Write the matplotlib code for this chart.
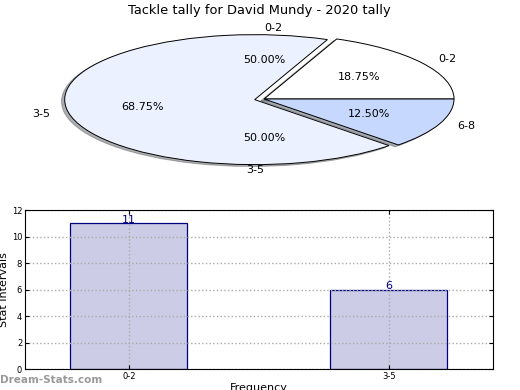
import matplotlib
matplotlib.use("Agg")
import matplotlib.pyplot as plt

# pie data: outer tally and the second (label only) ring
pie_labels = ['0-2', '3-5', '6-8']
pie_pcts = [18.75, 68.75, 12.50]
pie_colors = ['#ffffff', '#ebf1fe', '#c6d8fd']
pie_explode = [0, 0.05, 0]

ring_labels = ['0-2', '3-5']
ring_pcts = [50.0, 50.0]

# bar data
bar_labels = ['0-2', '3-5']
bar_values = [11, 6]

title = 'Tackle tally for David Mundy - 2020 tally'


def draw_pie(fig):
    ax = fig.add_axes([0.1423, 0.5795, 0.7308, 0.3333])
    ax.pie(pie_pcts, labels=pie_labels, colors=pie_colors, explode=pie_explode,
           autopct='%1.2f%%', startangle=0,
           shadow={'ox': -0.012, 'oy': -0.02, 'shade': 0.6},
           wedgeprops={'edgecolor': 'black', 'linewidth': 0.7},
           textprops={'fontsize': 8})
    _, ring_texts, _ = ax.pie(ring_pcts, labels=ring_labels, autopct='%1.2f%%', startangle=0,
                              wedgeprops={'fill': False, 'linewidth': 0},
                              textprops={'fontsize': 8})
    # top label sits to the right of the centre, bottom one to the left
    ring_texts[0].set_ha('left')
    ring_texts[1].set_ha('right')
    ax.set_aspect('auto')
    ax.set_xlim(-1, 1)
    ax.set_ylim(-1, 1)
    ax.axis('off')


def draw_bars(fig):
    ax = fig.add_axes([0.048, 0.0538, 0.900, 0.4077])
    x = list(range(len(bar_values)))
    ax.bar(x, bar_values, width=0.45, color='#cccce6', edgecolor='#000080', linewidth=0.9)
    for xi, v in zip(x, bar_values):
        ax.text(xi, v + 0.25, str(v), ha='center', va='center', color='#000080', fontsize=8)
    ax.set_xlim(-0.4, 1.4)
    ax.set_ylim(0, 12)
    ax.set_yticks(range(0, 13, 2))
    ax.set_xticks(x)
    ax.set_xticklabels(bar_labels)
    ax.tick_params(labelsize=6, direction='in', length=3, top=True, right=True, pad=2)
    ax.grid(True, linestyle=':', color='#aaaaaa', linewidth=1)
    ax.set_axisbelow('line')
    ax.set_ylabel('Stat Intervals', fontsize=8, labelpad=2)
    for sp in ax.spines.values():
        sp.set_linewidth(0.8)


def main():
    fig = plt.figure(figsize=(5.2, 3.9), dpi=100)
    fig.text(0.498, 0.974, title, ha='center', va='center', fontsize=9.4)
    draw_pie(fig)
    draw_bars(fig)
    fig.text(0.498, 0.018, 'Frequency', ha='center', va='top', fontsize=8)
    fig.text(0.0, 0.025, 'Dream-Stats.com', ha='left', va='center', fontsize=7.5,
             fontweight='bold', color='#999999')
    fig.savefig('out.png', dpi=100)


if __name__ == '__main__':
    main()
